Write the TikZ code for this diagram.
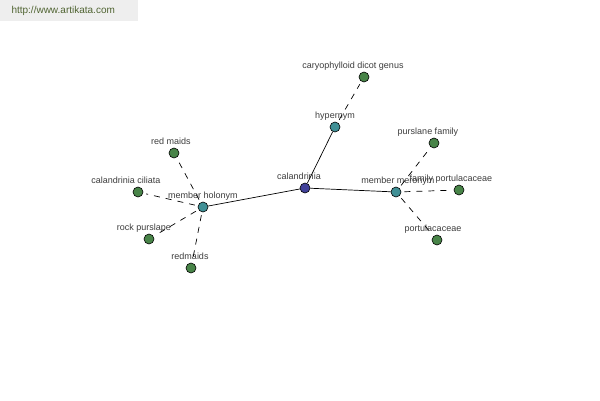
\documentclass[tikz,border=0pt]{standalone}
\usepackage{fontspec}
\setmainfont{Liberation Sans}
\usetikzlibrary{positioning}

\definecolor{leafgreen}{RGB}{72,132,72}
\definecolor{hubteal}{RGB}{64,144,150}
\definecolor{rootblue}{RGB}{64,64,152}
\definecolor{lblgray}{RGB}{60,60,60}
\definecolor{wmgreen}{RGB}{80,100,50}
\definecolor{wmback}{RGB}{238,238,238}

\tikzset{
  vert/.style={circle, draw=black, line width=0.6pt, minimum size=10pt, inner sep=0pt},
  root/.style={vert, fill=rootblue},
  hub/.style={vert, fill=hubteal},
  leaf/.style={vert, fill=leafgreen},
  lbl/.style={font=\fontsize{9}{10}\selectfont, text=lblgray, inner sep=1pt, text depth=0pt},
  rel/.style={draw=black, line width=0.7pt},
  syn/.style={draw=black, line width=0.7pt, dash pattern=on 6pt off 6pt, shorten <=3pt, shorten >=3pt},
}

\begin{document}
\begin{tikzpicture}[x=1pt, y=-1pt, on grid, every label/.style={lbl}, label distance=2pt]
  \useasboundingbox (0,0) rectangle (600,400);
  \node[fill=wmback, minimum width=138pt, minimum height=21pt, inner sep=0pt, anchor=north west] (site) at (0,0) {};
  \node[font=\fontsize{10}{12}\selectfont, text=wmgreen, anchor=west] (url) at (8,11) {http://www.artikata.com};

  \node[root, label={[xshift=-6pt]above:calandrinia}] (cal) at (305,188) {};
  \node[hub, above right=61pt and 30pt of cal, label={above:hypernym}] (hyper) {};
  \node[leaf, above right=50pt and 29pt of hyper, label={[xshift=-11pt]above:caryophylloid dicot genus}] (cdg) {};

  \node[hub, below right=4pt and 91pt of cal, label={[xshift=2pt]above:member meronym}] (mero) {};
  \node[leaf, above right=49pt and 38pt of mero, label={[xshift=-6pt]above:purslane family}] (pfam) {};
  \node[leaf, above right=2pt and 63pt of mero, label={[xshift=-8pt]above:family portulacaceae}] (fport) {};
  \node[leaf, below right=48pt and 41pt of mero, label={[xshift=-4pt]above:portulacaceae}] (port) {};

  \node[hub, below left=19pt and 102pt of cal, label={above:member holonym}] (holo) {};
  \node[leaf, above left=54pt and 29pt of holo, label={[xshift=-3pt]above:red maids}] (rmaids) {};
  \node[leaf, above left=15pt and 65pt of holo, label={[xshift=-12pt]above:calandrinia ciliata}] (cil) {};
  \node[leaf, below left=32pt and 54pt of holo, label={[xshift=-5pt]above:rock purslape}] (rock) {};
  \node[leaf, below left=61pt and 12pt of holo, label={[xshift=-1pt]above:redmaids}] (redm) {};

  % relations
  \draw[rel] (cal) -- (hyper);
  \draw[rel] (cal) -- (mero);
  \draw[rel] (cal) -- (holo);

  % words
  \draw[syn] (hyper) -- (cdg);
  \draw[syn] (mero) -- (pfam);
  \draw[syn] (mero) -- (fport);
  \draw[syn] (mero) -- (port);
  \draw[syn] (holo) -- (rmaids);
  \draw[syn] (holo) -- (cil);
  \draw[syn] (holo) -- (rock);
  \draw[syn] (holo) -- (redm);
\end{tikzpicture}
\end{document}
